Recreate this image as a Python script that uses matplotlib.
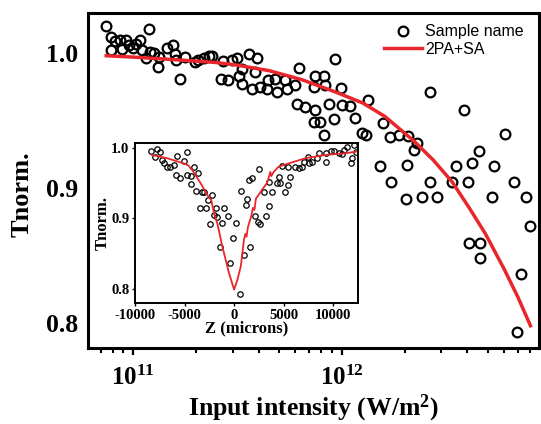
import matplotlib
matplotlib.use("Agg")
import matplotlib.pyplot as plt
from matplotlib.ticker import LogLocator, NullFormatter

plt.rcParams["mathtext.fontset"] = "custom"
plt.rcParams["mathtext.rm"] = "Liberation Serif:bold"
plt.rcParams["mathtext.bf"] = "Liberation Serif:bold"
plt.rcParams["mathtext.it"] = "Liberation Serif:bold"

# main panel: open-aperture data vs input intensity
intensity = [7.46e10, 7.83e10, 8.21e10, 7.83e10, 8.69e10, 9.27e10, 8.92e10, 9.62e10,
             1.00e11, 1.04e11, 1.08e11, 1.20e11, 1.10e11, 1.16e11, 1.21e11, 1.26e11,
             1.32e11, 1.34e11, 1.45e11, 1.56e11, 1.59e11, 1.61e11, 1.68e11, 1.78e11,
             1.98e11, 2.06e11, 2.18e11, 2.31e11, 2.40e11, 2.64e11, 2.69e11, 2.87e11,
             2.97e11, 3.15e11, 3.21e11, 3.33e11, 3.32e11, 3.58e11, 3.72e11, 3.86e11,
             3.92e11, 4.07e11, 4.38e11, 4.46e11, 4.80e11, 4.89e11, 5.36e11, 5.46e11,
             5.98e11, 6.09e11, 6.21e11, 6.68e11, 7.35e11, 7.35e11, 7.46e11, 7.46e11,
             7.90e11, 8.21e11, 8.21e11, 8.36e11, 8.69e11, 9.16e11, 9.33e11, 9.88e11,
             1.00e12, 1.10e12, 1.16e12, 1.25e12, 1.30e12, 1.34e12, 1.52e12, 1.58e12,
             1.70e12, 1.72e12, 1.87e12, 2.06e12, 2.02e12, 2.07e12, 2.22e12, 2.29e12,
             2.42e12, 2.64e12, 2.64e12, 2.85e12, 3.36e12, 3.51e12, 3.86e12, 4.01e12,
             4.06e12, 4.21e12, 4.55e12, 4.58e12, 4.58e12, 5.23e12, 5.38e12, 6.03e12,
             6.65e12, 6.91e12, 7.18e12, 7.66e12, 7.96e12]
t_norm = [1.020, 1.012, 1.009, 1.002, 1.010, 1.010, 1.003, 1.006,
          1.004, 1.007, 1.010, 1.018, 1.002, 0.996, 1.001, 1.000,
          0.990, 0.997, 1.004, 1.006, 0.9995, 0.995, 0.981, 0.997,
          0.993, 0.995, 0.996, 0.9975, 0.9975, 0.981, 0.994, 0.980,
          0.995, 0.996, 0.983, 0.977, 0.988, 0.999, 0.973, 0.986,
          0.996, 0.975, 0.973, 0.980, 0.981, 0.9715, 0.980, 0.973,
          0.9765, 0.962, 0.989, 0.960, 0.975, 0.949, 0.983, 0.958,
          0.949, 0.983, 0.939, 0.9765, 0.962, 0.951, 0.9955, 0.974,
          0.9616, 0.9604, 0.9517, 0.9406, 0.9394, 0.9653, 0.9163, 0.9485,
          0.9381, 0.9047, 0.9394, 0.9171, 0.8916, 0.9386, 0.9282, 0.9332,
          0.8931, 0.9708, 0.9047, 0.8936, 0.9047, 0.9166, 0.9579, 0.9047,
          0.8594, 0.9183, 0.9275, 0.8594, 0.8485, 0.8936, 0.9166, 0.9399,
          0.9047, 0.7933, 0.8366, 0.8936, 0.8720]

fit_intensity = [7.46e10, 1.0e11, 1.61e11, 2.49e11, 3.08e11, 4.50e11, 6.46e11, 9.31e11,
                 1.26e12, 1.61e12, 2.21e12, 2.74e12, 3.38e12, 4.09e12, 4.88e12, 5.99e12,
                 6.97e12, 8.01e12]
fit_t = [0.998, 0.997, 0.995, 0.993, 0.9913, 0.9869, 0.9802, 0.9712,
         0.9630, 0.953, 0.935, 0.9208, 0.9045, 0.885, 0.866, 0.840,
         0.8193, 0.798]

# inset: z-scan trace
z_pos = [-8385, -7777, -7504, -7943, -7270, -7098, -6763, -6419, -6084, -5749, -5070, -4735,
         -5911, -5476, -4796, -4330, -4056, -3620, -4391, -3884, -3275, -3042, -2200, -2636,
         -3478, -2870, -1856, -1014, -2028, -1690, -608, -2434, -1183, 169, -68, -1420,
         -406, 608, 744, 1186, 1014, 1521,
         2468, 1791, 1284, 2062, 2637, 2400, 1622, 3211, 3549, 2975, 3820, 3482, 4327,
         4665, 5104, 5442, 4496, 4834, 5679, 5442, 6185, 6523, 6861, 7031, 7538, 7470,
         7876, 8385, 8554, 9227, 9295, 9734, 10072, 10578, 11085, 11423, 11762, 11864,
         12100, 12270, 10923]
z_t = [0.9962, 0.9986, 0.9948, 0.9877, 0.983, 0.9783, 0.9735, 0.9735, 0.976, 0.9887, 0.9816, 0.9948,
       0.9617, 0.957, 0.9617, 0.960, 0.9735, 0.964, 0.949, 0.9395, 0.938, 0.938, 0.9333, 0.926,
       0.915, 0.915, 0.9144, 0.915, 0.905, 0.9026, 0.9035, 0.892, 0.893, 0.894, 0.872, 0.860,
       0.8365, 0.793, 0.9395, 0.919, 0.848, 0.9546,
       0.970, 0.957, 0.927, 0.9035, 0.892, 0.895, 0.859, 0.9035, 0.918, 0.938, 0.938, 0.951, 0.950,
       0.950, 0.938, 0.9475, 0.959, 0.9745, 0.959, 0.9726, 0.9735, 0.971, 0.9735, 0.9806, 0.979, 0.9868,
       0.9806, 0.9854, 0.9933, 0.9806, 0.9933, 0.9962, 0.9962, 0.9925, 0.9972, 1.001, 0.979, 0.9854,
       1.004, 0.9948, 0.9915]

z_fit = [-8283, -6763, -5070, -4600, -4400, -4228, -3380, -2704, -2299, -2028, -1690, -1183,
         -507, 0, 338, 676, 1000, 1150, 1250, 1400, 1724, 1900, 2050, 2200, 2468, 2806,
         3313, 3500, 3650, 3750, 4000, 4496, 5510, 7200, 9227, 11254, 12400]
z_fit_t = [0.990, 0.9854, 0.978, 0.975, 0.971, 0.9688, 0.950, 0.9333, 0.926, 0.907, 0.893, 0.860,
           0.822, 0.799, 0.813, 0.832, 0.870, 0.878, 0.874, 0.888, 0.9026, 0.915, 0.912, 0.928,
           0.9333, 0.9404, 0.950, 0.958, 0.966, 0.960, 0.966, 0.9735, 0.978, 0.9854, 0.990,
           0.9925, 0.9948]

x_ticks = [1e11, 1e12]
x_tick_labels = [r"$\mathbf{10^{11}}$", r"$\mathbf{10^{12}}$"]
y_ticks = [0.8, 0.9, 1.0]
inset_x_ticks = [-10000, -5000, 0, 5000, 10000]

red = "#e8262b"
serif = "Liberation Serif"

fig = plt.figure(figsize=(5.41, 4.24), dpi=100)
ax = fig.add_axes([0.1627, 0.1792, 0.8336, 0.790])

ax.plot(intensity, t_norm, "o", mfc="none", mec="black", ms=7, mew=1.6, label="Sample name")
ax.plot(fit_intensity, fit_t, "-", color=red, lw=2.5, label="2PA+SA")
ax.set_xscale("log")
ax.set_xlim(6.1e10, 8.8e12)
ax.set_ylim(0.7815, 1.0296)

ax.set_xticks(x_ticks)
ax.set_xticklabels(x_tick_labels, fontsize=18)
ax.xaxis.set_minor_locator(LogLocator(base=10, subs=range(2, 10)))
ax.xaxis.set_minor_formatter(NullFormatter())
ax.set_yticks(y_ticks)
ax.set_yticklabels(["%.1f" % v for v in y_ticks], fontsize=18.5, family=serif, weight="bold")
ax.tick_params(axis="x", which="major", direction="out", length=5, width=1.6, pad=8)
ax.tick_params(axis="x", which="minor", direction="out", length=3.5, width=1.5)
ax.tick_params(axis="y", which="both", length=0, pad=7)
for s in ax.spines.values():
    s.set_linewidth(2.2)

fig.text(0.58, 0.038, "Input intensity (W/m$^2$)", ha="center", va="center",
         fontsize=18.5, family=serif, weight="bold")
fig.text(0.04, 0.541, "Tnorm.", rotation=90, ha="center", va="center",
         fontsize=19, family=serif, weight="bold")

ax.legend(loc="upper left", bbox_to_anchor=(0.656, 0.967), frameon=False, borderpad=0,
          borderaxespad=0, handlelength=2.4, handletextpad=0.2, labelspacing=0.15,
          numpoints=1, prop={"family": "Liberation Sans", "size": 11.5})

# inset
ins = fig.add_axes([0.2495, 0.2854, 0.4122, 0.3774])
ins.set_facecolor("white")
ins.plot(z_pos, z_t, "o", mfc="none", mec="black", ms=3.9, mew=0.9)
ins.plot(z_fit, z_fit_t, "-", color=red, lw=1.3)
ins.set_xlim(-10000, 12500)
ins.set_ylim(0.78, 1.007)
ins.set_xticks(inset_x_ticks)
ins.set_xticklabels([str(v) for v in inset_x_ticks], fontsize=10.5, family=serif, weight="bold")
ins.set_yticks(y_ticks)
ins.set_yticklabels(["%.1f" % v for v in y_ticks], fontsize=10.5, family=serif, weight="bold")
ins.tick_params(direction="out", length=2.5, width=1, pad=1.5)
for s in ins.spines.values():
    s.set_linewidth(1.4)
ins.set_xlabel("Z (microns)", fontsize=12, family=serif, weight="bold", labelpad=-1)
ins.set_ylabel("Tnorm.", fontsize=12, family=serif, weight="bold", labelpad=0)

fig.savefig("out.png", dpi=100)
